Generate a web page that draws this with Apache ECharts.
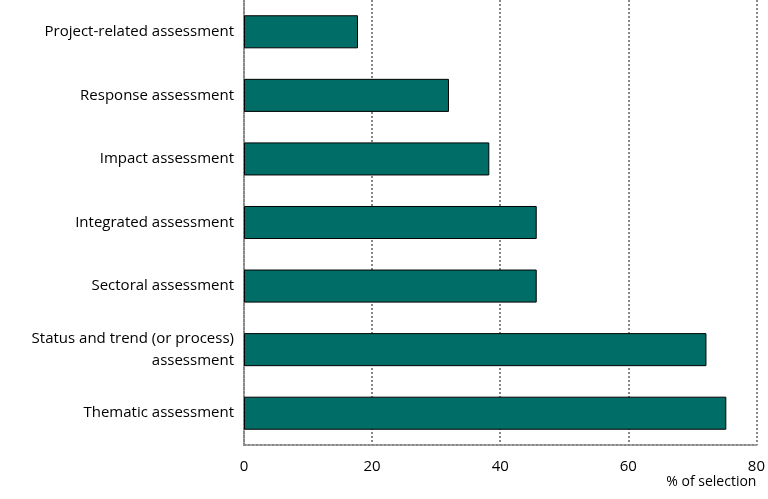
<!DOCTYPE html>
<html><head><meta charset="utf-8">
<script src="https://cdn.jsdelivr.net/npm/echarts@6/dist/echarts.min.js"></script>
<style>html,body{margin:0;padding:0;background:#fff}#c{width:768px;height:499px}</style>
</head><body><div id="c"></div>
<script>
const categories = ["Thematic assessment","Status and trend (or process)\nassessment","Sectoral assessment","Integrated assessment","Impact assessment","Response assessment","Project-related assessment"];
const values = [75.3, 72.2, 45.7, 45.7, 38.3, 32, 17.8];
const xTicks = [0,20,40,60,80];
const chart = echarts.init(document.getElementById('c'));
chart.setOption({
  animation:false,
  grid:{left:244,right:6,top:0,bottom:54},
  xAxis:{type:'value',min:0,max:80,interval:20,
    name:'% of selection',nameLocation:'end',nameGap:0,
    nameTextStyle:{color:'#000',fontSize:14,fontFamily:'Open Sans',align:'right',verticalAlign:'top',padding:[30,0,0,0]},
    axisLine:{show:true,lineStyle:{color:'#888',type:'dotted',width:2}},
    axisTick:{show:false},
    axisLabel:{color:'#000',fontSize:15,fontFamily:'Open Sans',margin:14,formatter:v=>xTicks.includes(v)?String(v):''},
    splitLine:{show:true,lineStyle:{color:'#888',type:'dotted',width:2}}},
  yAxis:{type:'category',data:categories,
    axisLine:{show:true,lineStyle:{color:'#888',type:'dotted',width:2}},
    axisTick:{show:false},
    axisLabel:{color:'#000',fontSize:15,fontFamily:'Open Sans',margin:10,align:'right',lineHeight:22}},
  series:[{type:'bar',data:values,barWidth:'52%',
    itemStyle:{color:'#006d66',borderColor:'#000',borderWidth:1}}]
});
</script></body></html>
